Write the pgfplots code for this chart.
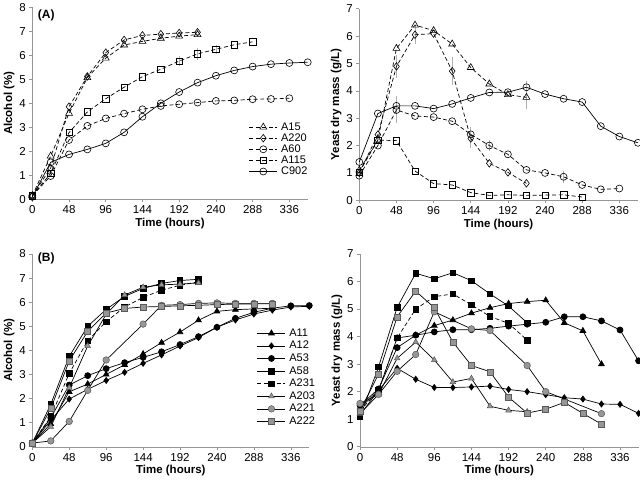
\documentclass[border=0pt]{standalone}
\usepackage{pgfplots}
\pgfplotsset{compat=1.18}
\usepackage{fontspec}
\setmainfont{Liberation Sans}
\usetikzlibrary{plotmarks}
\definecolor{axgray}{RGB}{150,150,150}
\definecolor{mgray}{RGB}{150,150,150}
\definecolor{mgrayd}{RGB}{90,90,90}
\definecolor{ebgray}{RGB}{175,175,175}
\pgfplotsset{
  panel/.style={scale only axis, xmin=0, xmax=360, ymin=0,
    xtick={0,48,...,336},
    axis x line*=bottom, axis y line*=left,
    axis line style={axgray,-}, tick style={axgray, line width=0.6pt},
    tick align=outside, major tick length=3pt,
    tick label style={font=\fontsize{11.5}{12}\selectfont},
    label style={font=\bfseries\fontsize{11.5}{13}\selectfont},
    xlabel={Time (hours)},
    xlabel style={yshift=3pt},
    ylabel style={yshift=-2pt},
    /pgf/number format/assume math mode=true,
    clip=false,
    legend cell align=left,
    legend image code/.code={\draw[mark repeat=2,mark phase=2] plot coordinates {(0pt,0pt) (14pt,0pt) (28pt,0pt)};},
  },
  ds/.style={black, line width=0.7pt, dash pattern=on 4pt off 2.5pt},
  sl/.style={black, line width=0.7pt},
  ebars/.style={forget plot, draw=none, mark=none,
    error bars/.cd, y dir=both, y explicit,
    error bar style={draw=ebgray, line width=0.7pt, solid},
    error mark options={draw=ebgray, mark size=2pt, line width=0.7pt, solid}},
  mA15/.style={mark=triangle, mark size=4pt, mark options={solid, fill=white, draw=black, line width=0.6pt}},
  mA220/.style={mark=diamond, mark size=3.8pt, mark options={solid, fill=white, draw=black, line width=0.6pt}},
  mA60/.style={mark=o, mark size=3.5pt, mark options={solid, fill=white, draw=black, line width=0.6pt}},
  mA115/.style={mark=square, mark size=3.2pt, mark options={solid, fill=white, draw=black, line width=0.6pt}},
  mBtri/.style={mark=triangle*, mark size=3.3pt, mark options={solid, fill=black, draw=black}},
  mBdia/.style={mark=diamond*, mark size=3pt, mark options={solid, fill=black, draw=black}},
  mBcirc/.style={mark=*, mark size=3pt, mark options={solid, fill=black, draw=black}},
  mBsq/.style={mark=square*, mark size=2.8pt, mark options={solid, fill=black, draw=black}},
  mBgtri/.style={mark=triangle*, mark size=3.3pt, mark options={solid, fill=mgray, draw=mgrayd, line width=0.5pt}},
  mBgcirc/.style={mark=*, mark size=3.3pt, mark options={solid, fill=mgray, draw=mgrayd, line width=0.5pt}},
  mBgsq/.style={mark=square*, mark size=3pt, mark options={solid, fill=mgray, draw=mgrayd, line width=0.5pt}},
  legA/.style={legend style={draw=none, fill=none, font=\fontsize{11}{12}\selectfont, row sep=1.5pt,
     nodes={inner sep=1pt, text height=8pt, text depth=2pt},
     /tikz/every odd column/.append style={column sep=2.5pt}}},
}
\begin{document}
\begin{tikzpicture}[x=1pt,y=1pt]
\useasboundingbox (0,0) rectangle (640,482);

% ---------------- Panel A: Alcohol ----------------
\begin{axis}[panel, at={(32.3pt,282.7pt)}, anchor=south west,
  width=275.4pt, height=192pt, ymax=8, ytick={0,1,...,8},
  ylabel={Alcohol (\%)}, legA,
  legend style={at={(axis cs:279,3.35)}, anchor=north west, row sep=-0.9pt}]
\addplot[ebars] coordinates {(192,5.76) +- (0,0.12) (216,6.06) +- (0,0.17) (240,6.25) +- (0,0.1)};
\addplot[ds, mA15] coordinates {(0,0.15)(24,1.8)(48,3.58)(72,5.07)(96,5.88)(120,6.43)(144,6.58)(168,6.71)(192,6.8)(216,6.86)};
\addlegendentry{A15}
\addplot[ds, mA220] coordinates {(0,0.15)(24,1.3)(48,3.86)(72,5.12)(96,6.11)(120,6.64)(144,6.83)(168,6.88)(192,6.93)(216,6.96)};
\addlegendentry{A220}
\addplot[ds, mA60] coordinates {(0,0.15)(24,0.97)(48,2.47)(72,3.06)(96,3.37)(120,3.57)(144,3.75)(168,3.89)(192,3.96)(216,4.03)(240,4.1)(264,4.12)(288,4.17)(312,4.18)(336,4.21)};
\addlegendentry{A60}
\addplot[ds, mA115] coordinates {(0,0.15)(24,1.08)(48,2.78)(72,3.64)(96,4.19)(120,4.67)(144,5.11)(168,5.42)(192,5.76)(216,6.06)(240,6.25)(264,6.44)(288,6.56)};
\addlegendentry{A115}
\addplot[sl, mA60] coordinates {(0,0.1)(24,1.54)(48,1.87)(72,2.08)(96,2.33)(120,2.79)(144,3.44)(168,4.0)(192,4.47)(216,4.86)(240,5.15)(264,5.37)(288,5.53)(312,5.63)(336,5.68)(360,5.71)};
\addlegendentry{C902}
\node[anchor=north west, font=\bfseries\fontsize{12}{13}\selectfont, inner sep=0pt] at (axis cs:7,7.9) {(A)};
\end{axis}

% ---------------- Panel A: Yeast ----------------
\begin{axis}[panel, at={(359.3pt,281.7pt)}, anchor=south west,
  width=278.6pt, height=191.6pt, ymax=7, ytick={0,1,...,7},
  ylabel={Yeast dry mass (g/L)}]
\addplot[ebars] coordinates {(48,4.89) +- (0,0.35) (72,6.05) +- (0,0.28) (120,4.72) +- (0,0.45)
  (48,3.3) +- (0,0.42) (144,2.3) +- (0,0.32) (168,2.0) +- (0,0.12) (216,3.76) +- (0,0.35) (216,4.13) +- (0,0.17) (264,0.86) +- (0,0.15)};
\addplot[ds, mA15] coordinates {(0,1.1)(24,2.2)(48,5.55)(72,6.4)(96,6.2)(120,5.71)(144,4.85)(168,4.25)(192,3.86)(216,3.76)};
\addplot[ds, mA220] coordinates {(0,1.0)(24,2.4)(48,4.89)(72,6.05)(96,6.09)(120,4.72)(144,2.26)(168,1.35)(192,1.02)(216,0.62)};
\addplot[ds, mA60] coordinates {(0,0.9)(24,2.0)(48,3.3)(72,3.08)(96,3.04)(120,2.89)(144,2.41)(168,2.0)(192,1.68)(216,1.11)(240,1.0)(264,0.86)(288,0.56)(312,0.4)(336,0.43)};
\addplot[ds, mA115] coordinates {(0,1.03)(24,2.2)(48,2.18)(72,1.07)(96,0.61)(120,0.56)(144,0.28)(168,0.18)(192,0.2)(216,0.18)(240,0.19)(264,0.2)(288,0.12)};
\addplot[sl, mA60] coordinates {(0,1.4)(24,3.17)(48,3.45)(72,3.45)(96,3.35)(120,3.52)(144,3.74)(168,3.94)(192,3.95)(216,4.13)(240,3.88)(264,3.71)(288,3.59)(312,2.71)(336,2.33)(360,2.1)};
\end{axis}

% ---------------- Panel B: Alcohol ----------------
\begin{axis}[panel, at={(32.3pt,35.3pt)}, anchor=south west,
  width=277pt, height=192.7pt, ymax=8, ytick={0,1,...,8},
  ylabel={Alcohol (\%)}, legA,
  legend style={at={(axis cs:288,5.05)}, anchor=north west, row sep=0.6pt}]
\addplot[sl, mBtri] coordinates {(0,0.15)(24,0.95)(48,2.28)(72,2.6)(96,3.0)(120,3.4)(144,3.85)(168,4.32)(192,4.76)(216,5.25)(240,5.62)(264,5.69)(288,5.72)(312,5.75)};
\addlegendentry{A11}
\addplot[sl, mBdia] coordinates {(0,0.15)(24,1.1)(48,1.98)(72,2.38)(96,2.75)(120,3.09)(144,3.46)(168,3.81)(192,4.18)(216,4.53)(240,4.96)(264,5.26)(288,5.51)(312,5.67)(336,5.8)(360,5.83)};
\addlegendentry{A12}
\addplot[sl, mBcirc] coordinates {(0,0.15)(24,1.2)(48,2.56)(72,2.95)(96,3.24)(120,3.49)(144,3.71)(168,3.94)(192,4.24)(216,4.57)(240,4.96)(264,5.33)(288,5.58)(312,5.75)(336,5.85)(360,5.86)};
\addlegendentry{A53}
\addplot[sl, mBsq] coordinates {(0,0.15)(24,1.76)(48,3.75)(72,5.0)(96,5.7)(120,6.24)(144,6.57)(168,6.78)(192,6.9)(216,6.95)};
\addlegendentry{A58}
\addplot[ds, mBsq] coordinates {(0,0.15)(24,1.25)(48,3.04)(72,4.4)(96,5.19)(120,5.8)(144,6.2)(168,6.5)(192,6.7)(216,6.85)};
\addlegendentry{A231}
\addplot[sl, mBgtri] coordinates {(0,0.15)(24,0.83)(48,2.45)(72,4.18)(96,5.5)(120,6.3)(144,6.62)(168,6.72)(192,6.75)(216,6.8)};
\addlegendentry{A203}
\addplot[sl, mBgcirc] coordinates {(0,0.15)(24,0.24)(48,1.05)(72,2.34)(96,3.6)(144,5.09)(168,5.87)(192,5.9)(216,5.95)(240,5.97)(264,5.95)(288,5.95)(312,5.95)};
\addlegendentry{A221}
\addplot[sl, mBgsq] coordinates {(0,0.15)(24,1.59)(48,3.56)(72,4.79)(96,5.55)(120,5.74)(144,5.8)(168,5.82)(192,5.85)(216,5.87)(240,5.9)(264,5.92)(288,5.93)(312,5.93)};
\addlegendentry{A222}
\node[anchor=north west, font=\bfseries\fontsize{12}{13}\selectfont, inner sep=0pt] at (axis cs:7,8.05) {(B)};
\end{axis}

% ---------------- Panel B: Yeast ----------------
\begin{axis}[panel, at={(360pt,35.3pt)}, anchor=south west,
  width=278.6pt, height=192.7pt, ymax=7, ytick={0,1,...,7},
  ylabel={Yeast dry mass (g/L)}]
\addplot[sl, mBtri] coordinates {(0,1.4)(24,2.05)(48,3.95)(72,4.05)(96,4.4)(120,4.6)(144,4.85)(168,5.05)(192,5.2)(216,5.27)(240,5.32)(264,4.5)(288,4.21)(312,3.0)};
\addplot[sl, mBdia] coordinates {(0,1.15)(24,2.05)(48,2.85)(72,2.45)(96,2.15)(120,2.15)(144,2.17)(168,2.2)(192,2.08)(216,2.0)(240,1.89)(264,1.78)(288,1.73)(312,1.55)(336,1.54)(360,1.21)};
\addplot[sl, mBcirc] coordinates {(0,1.5)(24,2.1)(48,3.6)(72,4.05)(96,4.17)(120,4.25)(144,4.25)(168,4.3)(192,4.38)(216,4.45)(240,4.52)(264,4.72)(288,4.72)(312,4.57)(336,4.24)(360,3.12)};
\addplot[sl, mBsq] coordinates {(0,1.08)(24,2.9)(48,5.06)(72,6.3)(96,6.1)(120,6.32)(144,6.03)(168,5.55)(192,5.11)(216,4.5)};
\addplot[ds, mBsq] coordinates {(0,1.3)(24,2.05)(48,3.95)(72,5.0)(96,5.45)(120,5.55)(144,5.15)(168,4.73)(192,4.48)(216,3.87)};
\addplot[sl, mBgtri] coordinates {(0,1.2)(24,1.9)(48,3.21)(72,3.8)(96,3.15)(120,2.35)(144,2.48)(168,1.47)(192,1.32)(216,1.27)};
\addplot[sl, mBgcirc] coordinates {(0,1.57)(24,1.9)(48,2.74)(72,3.35)(96,4.9)(144,4.28)(168,4.22)(216,2.95)(240,2.0)(312,1.2)};
\addplot[sl, mBgsq] coordinates {(0,1.3)(24,2.64)(48,4.72)(72,5.65)(96,5.05)(120,3.8)(144,2.95)(168,2.72)(192,1.8)(216,1.22)(240,1.36)(264,1.61)(288,1.21)(312,0.82)};
\end{axis}
\end{tikzpicture}
\end{document}
